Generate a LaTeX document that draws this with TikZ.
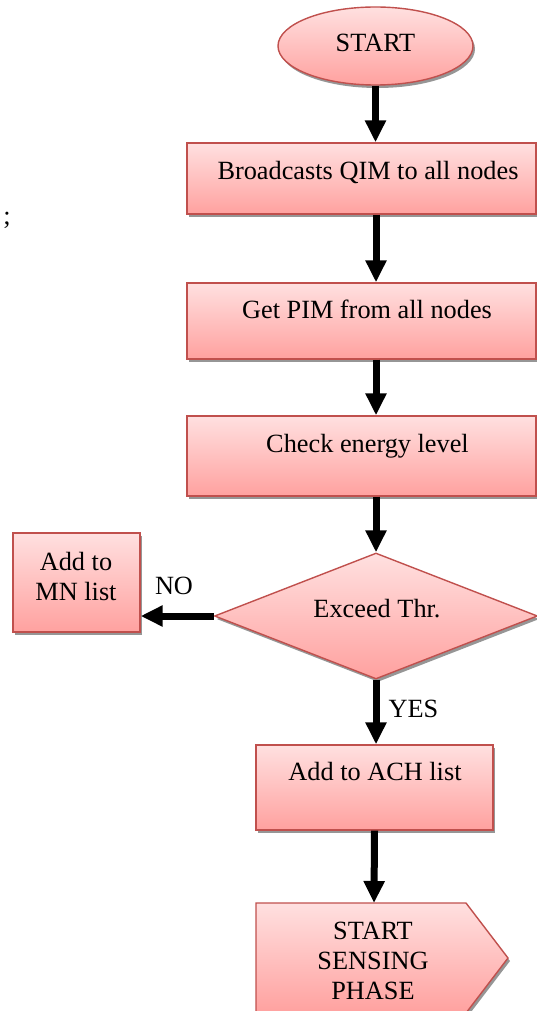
\documentclass[tikz,border=0pt]{standalone}
\usepackage{fontspec}
\setmainfont{Liberation Serif}
\usetikzlibrary{shapes.geometric,shadows,arrows.meta}
\definecolor{edgered}{HTML}{C0504D}
\definecolor{filltop}{RGB}{255,224,224}
\definecolor{fillbot}{RGB}{255,161,159}
\definecolor{shadowgray}{RGB}{150,150,150}
\tikzset{
  shp/.style={draw=edgered, line width=1.4pt, top color=filltop, bottom color=fillbot,
    drop shadow={shadow xshift=2pt, shadow yshift=-3pt, fill=shadowgray, opacity=1},
    inner sep=0pt},
  boxshape/.style={shp, rectangle},
  lbl/.style={font=\fontsize{26.3}{30}\selectfont, align=center, inner sep=0pt},
  flow/.style={line width=7pt, -{Triangle[length=22pt,width=20pt]}},
}
\begin{document}
\begin{tikzpicture}[x=1pt,y=1pt]
  \useasboundingbox (0,0) rectangle (537,-1011);
  \clip (0,0) rectangle (537,-1011);

  % start terminal
  \node[shp, ellipse, minimum width=195pt, minimum height=78pt, lbl] (start) at (375.5,-46) {};
  \node[lbl, anchor=base] (startt) at (375.5,-52) {START};

  % process boxes
  \node[boxshape, minimum width=349pt, minimum height=71pt] (b1) at (361.5,-178.5) {};
  \node[lbl, anchor=base] (t1) at (368,-179) {Broadcasts QIM to all nodes};

  \node[boxshape, minimum width=349pt, minimum height=76pt] (b2) at (361.5,-321) {};
  \node[lbl, anchor=base] (t2) at (367,-318) {Get PIM from all nodes};

  \node[boxshape, minimum width=349pt, minimum height=80pt] (b3) at (361.5,-456) {};
  \node[lbl, anchor=base] (t3) at (367.5,-452) {Check energy level};

  % decision
  \node[shp, diamond, minimum width=323pt, minimum height=126pt] (dec) at (376,-616) {};
  \node[lbl, anchor=base] (dect) at (377,-617) {Exceed Thr.};

  % branch targets
  \node[boxshape, minimum width=127pt, minimum height=99pt] (mn) at (76.5,-582.5) {};
  \node[lbl] (mnt) at (76,-576) {Add to\\MN list};

  \node[boxshape, minimum width=237pt, minimum height=85pt] (ach) at (374.5,-787.5) {};
  \node[lbl, anchor=base] (acht) at (375,-780) {Add to ACH list};

  % off-page connector
  \path[shp] (256,-903) -- (466,-903) -- (508,-958) -- (466,-1013) -- (256,-1013) -- cycle;
  \coordinate (ptop) at (374,-903);
  \node[lbl] (pt) at (373,-961) {START\\SENSING\\PHASE};

  % branch labels
  \node[lbl, anchor=base] (no) at (174,-594) {NO};
  \node[lbl, anchor=base] (yes) at (413.5,-717) {YES};

  \node[lbl, anchor=base] (semi) at (7,-224) {;};

  % connectors
  \coordinate (col) at (376,0);
  \draw[flow] (start.south) -- (start.south |- b1.north);
  \draw[flow] (b1.south -| col) -- (b2.north -| col);
  \draw[flow] (b2.south -| col) -- (b3.north -| col);
  \draw[flow] (b3.south -| dec.north) -- (dec.north);
  \draw[flow] (dec.west) -- (dec.west -| mn.east);
  \draw[flow] (dec.south) -- (dec.south |- ach.north);
  \draw[flow] (ach.south) -- (ptop);
\end{tikzpicture}
\end{document}
